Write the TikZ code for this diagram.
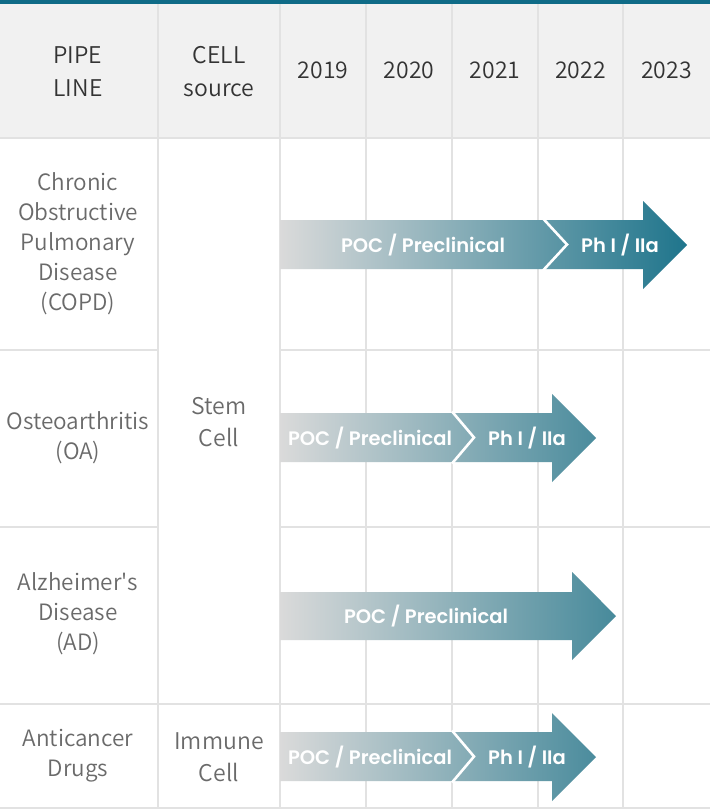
\documentclass[tikz,border=0pt]{standalone}
\usepackage{fontspec}
\setmainfont{Noto Sans CJK KR}[UprightFont={* DemiLight}]
\newfontfamily\arrowf{Poppins}[UprightFont={* SemiBold}]
\definecolor{topbar}{HTML}{0F6B87}
\definecolor{hdrbg}{HTML}{F1F1F1}
\definecolor{gridc}{HTML}{E2E2E2}
\definecolor{hdrtxt}{HTML}{333333}
\definecolor{bodytxt}{HTML}{6A6A6A}
\definecolor{agray}{HTML}{DADADA}
\definecolor{tealA}{HTML}{1F758C}
\definecolor{tealB}{HTML}{4B8C9D}
\definecolor{tealC}{HTML}{478A9B}
\tikzset{
  gridline/.style={draw=gridc, line width=2pt},
  hdr/.style={text=hdrtxt, font=\fontsize{23}{33}\selectfont, align=center, inner sep=0pt},
  bodyl/.style={text=bodytxt, font=\fontsize{22.5}{30}\selectfont, align=center, inner sep=0pt},
  bodyc/.style={text=bodytxt, font=\fontsize{23}{32}\selectfont, align=center, inner sep=0pt},
  alabel/.style={text=white, font=\arrowf\fontsize{19.5}{20}\selectfont, inner sep=0pt},
  chev/.style={draw=white, line width=2.6pt},
}
\begin{document}
\begin{tikzpicture}[x=1pt,y=-1pt]
\useasboundingbox (0,0) rectangle (710,811);
\fill[white] (0,0) rectangle (710,811);
\fill[hdrbg] (0,3) rectangle (710,138);
% grid
\foreach \x in {158,280,366,452,538,623} {\draw[gridline] (\x,3) -- (\x,808);}
\draw[gridline] (0,138) -- (710,138);
\foreach \y in {350,527} {\draw[gridline] (0,\y) -- (158,\y); \draw[gridline] (280,\y) -- (710,\y);}
\draw[gridline] (0,704) -- (710,704);
\draw[gridline] (0,808) -- (710,808);
\fill[topbar] (0,0) rectangle (710,3.5);
% header
\node[hdr] (hpipe) at (78,72) {PIPE\\LINE};
\node[hdr] (hcell) at (219,72) {CELL\\source};
\node[hdr] (y2019) at (323,70) {2019};
\node[hdr] (y2020) at (409,70) {2020};
\node[hdr] (y2021) at (495,70) {2021};
\node[hdr] (y2022) at (580.5,70) {2022};
\node[hdr] (y2023) at (666.5,70) {2023};
% body labels
\node[bodyl] (copd) at (78,244) {Chronic\\Obstructive\\Pulmonary\\Disease\\(COPD)};
\node[bodyl] (oa) at (78,438) {Osteoarthritis\\(OA)};
\node[bodyl] (ad) at (78,614) {Alzheimer\textquotesingle s\\Disease\\(AD)};
\node[bodyl] (anti) at (78,756) {Anticancer\\Drugs};
\node[bodyc] (stem) at (219,422) {Stem\\Cell};
\node[bodyc] (immune) at (219,757) {Immune\\Cell};
% arrow 1
\shade[left color=agray, right color=tealA] (280,220) -- (643,220) -- (643,201) -- (687,245) -- (643,289) -- (643,269) -- (280,269) -- cycle;
\draw[chev] (543,218.5) -- (567,244.5) -- (543,270.5);
\node[alabel] (a1p) at (423,245) {POC / Preclinical};
\node[alabel] (a1c) at (620,245) {Ph I / IIa};
% arrow 2
\shade[left color=agray, right color=tealB] (280,413) -- (552,413) -- (552,394) -- (596,438) -- (552,482) -- (552,462) -- (280,462) -- cycle;
\draw[chev] (452,411.5) -- (474,437.5) -- (452,463.5);
\node[alabel] (a2p) at (370,438) {POC / Preclinical};
\node[alabel] (a2c) at (527,438) {Ph I / IIa};
% arrow 3
\shade[left color=agray, right color=tealC] (280,592) -- (572,592) -- (572,572) -- (616,616) -- (572,660) -- (572,640) -- (280,640) -- cycle;
\node[alabel] (a3p) at (426,616) {POC / Preclinical};
% arrow 4
\shade[left color=agray, right color=tealB] (280,732) -- (552,732) -- (552,713) -- (596,757) -- (552,801) -- (552,781) -- (280,781) -- cycle;
\draw[chev] (452,730.5) -- (474,756.5) -- (452,782.5);
\node[alabel] (a4p) at (370,757) {POC / Preclinical};
\node[alabel] (a4c) at (527,757) {Ph I / IIa};
\end{tikzpicture}
\end{document}
